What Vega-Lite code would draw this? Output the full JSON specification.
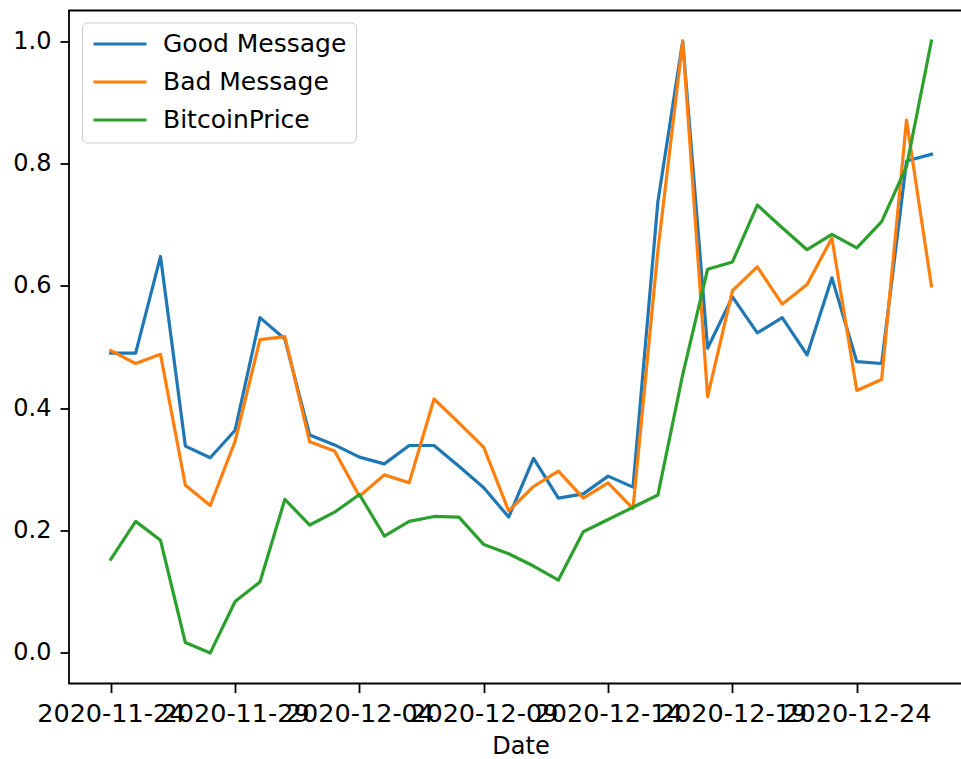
{
  "$schema": "https://vega.github.io/schema/vega-lite/v6.json",
  "width": 892,
  "height": 673,
  "autosize": {"type": "none"},
  "padding": {"left": 69, "top": 10.5, "right": 0, "bottom": 75.5},
  "background": "white",
  "config": {
    "font": "DejaVu Sans",
    "view": {"stroke": "black", "strokeWidth": 1.8, "strokeDash": [892, 673, 1565]},
    "axis": {
      "grid": false,
      "domain": false,
      "labelFont": "DejaVu Sans",
      "labelFontSize": 24,
      "labelColor": "black",
      "tickColor": "black",
      "tickWidth": 1.8,
      "tickSize": 9,
      "titleFont": "DejaVu Sans",
      "titleFontSize": 24,
      "titleFontWeight": "normal",
      "titleColor": "black"
    },
    "legend": {
      "labelFont": "DejaVu Sans",
      "labelFontSize": 25,
      "labelColor": "black",
      "labelLimit": 0,
      "symbolType": "M-1,0H4.3",
      "symbolSize": 400,
      "symbolStrokeWidth": 3.2,
      "labelOffset": 47,
      "rowPadding": 12,
      "padding": 9,
      "fillColor": "rgba(255,255,255,0.8)",
      "strokeColor": "#cccccc",
      "cornerRadius": 5
    }
  },
  "data": {
    "values": [
      {"Date": "2020-11-24", "Good Message": 0.490, "Bad Message": 0.494, "BitcoinPrice": 0.153},
      {"Date": "2020-11-25", "Good Message": 0.490, "Bad Message": 0.473, "BitcoinPrice": 0.215},
      {"Date": "2020-11-26", "Good Message": 0.648, "Bad Message": 0.488, "BitcoinPrice": 0.184},
      {"Date": "2020-11-27", "Good Message": 0.338, "Bad Message": 0.274, "BitcoinPrice": 0.017},
      {"Date": "2020-11-28", "Good Message": 0.319, "Bad Message": 0.241, "BitcoinPrice": 0.000},
      {"Date": "2020-11-29", "Good Message": 0.364, "Bad Message": 0.346, "BitcoinPrice": 0.084},
      {"Date": "2020-11-30", "Good Message": 0.548, "Bad Message": 0.512, "BitcoinPrice": 0.116},
      {"Date": "2020-12-01", "Good Message": 0.513, "Bad Message": 0.517, "BitcoinPrice": 0.251},
      {"Date": "2020-12-02", "Good Message": 0.356, "Bad Message": 0.345, "BitcoinPrice": 0.209},
      {"Date": "2020-12-03", "Good Message": 0.340, "Bad Message": 0.330, "BitcoinPrice": 0.230},
      {"Date": "2020-12-04", "Good Message": 0.320, "Bad Message": 0.256, "BitcoinPrice": 0.259},
      {"Date": "2020-12-05", "Good Message": 0.309, "Bad Message": 0.291, "BitcoinPrice": 0.191},
      {"Date": "2020-12-06", "Good Message": 0.339, "Bad Message": 0.278, "BitcoinPrice": 0.215},
      {"Date": "2020-12-07", "Good Message": 0.339, "Bad Message": 0.415, "BitcoinPrice": 0.223},
      {"Date": "2020-12-08", "Good Message": 0.305, "Bad Message": 0.376, "BitcoinPrice": 0.222},
      {"Date": "2020-12-09", "Good Message": 0.270, "Bad Message": 0.336, "BitcoinPrice": 0.177},
      {"Date": "2020-12-10", "Good Message": 0.222, "Bad Message": 0.232, "BitcoinPrice": 0.162},
      {"Date": "2020-12-11", "Good Message": 0.318, "Bad Message": 0.272, "BitcoinPrice": 0.142},
      {"Date": "2020-12-12", "Good Message": 0.253, "Bad Message": 0.297, "BitcoinPrice": 0.119},
      {"Date": "2020-12-13", "Good Message": 0.260, "Bad Message": 0.253, "BitcoinPrice": 0.198},
      {"Date": "2020-12-14", "Good Message": 0.289, "Bad Message": 0.278, "BitcoinPrice": 0.218},
      {"Date": "2020-12-15", "Good Message": 0.271, "Bad Message": 0.236, "BitcoinPrice": 0.238},
      {"Date": "2020-12-16", "Good Message": 0.737, "Bad Message": 0.657, "BitcoinPrice": 0.258},
      {"Date": "2020-12-17", "Good Message": 1.000, "Bad Message": 1.000, "BitcoinPrice": 0.455},
      {"Date": "2020-12-18", "Good Message": 0.498, "Bad Message": 0.419, "BitcoinPrice": 0.627},
      {"Date": "2020-12-19", "Good Message": 0.582, "Bad Message": 0.592, "BitcoinPrice": 0.639},
      {"Date": "2020-12-20", "Good Message": 0.523, "Bad Message": 0.631, "BitcoinPrice": 0.732},
      {"Date": "2020-12-21", "Good Message": 0.548, "Bad Message": 0.570, "BitcoinPrice": 0.695},
      {"Date": "2020-12-22", "Good Message": 0.487, "Bad Message": 0.602, "BitcoinPrice": 0.659},
      {"Date": "2020-12-23", "Good Message": 0.613, "Bad Message": 0.678, "BitcoinPrice": 0.684},
      {"Date": "2020-12-24", "Good Message": 0.476, "Bad Message": 0.429, "BitcoinPrice": 0.662},
      {"Date": "2020-12-25", "Good Message": 0.473, "Bad Message": 0.447, "BitcoinPrice": 0.705},
      {"Date": "2020-12-26", "Good Message": 0.804, "Bad Message": 0.871, "BitcoinPrice": 0.795},
      {"Date": "2020-12-27", "Good Message": 0.815, "Bad Message": 0.600, "BitcoinPrice": 1.000}
    ]
  },
  "transform": [
    {"fold": ["Good Message", "Bad Message", "BitcoinPrice"], "as": ["series", "value"]}
  ],
  "mark": {"type": "line", "strokeWidth": 3.2, "strokeJoin": "round", "strokeCap": "square", "clip": true},
  "encoding": {
    "x": {
      "field": "Date",
      "type": "temporal",
      "scale": {"type": "utc", "domain": ["2020-11-22T07:41:00Z", "2020-12-28T04:34:00Z"], "nice": false},
      "axis": {
        "title": "Date",
        "values": [
          {"year": 2020, "month": 11, "date": 24, "utc": true},
          {"year": 2020, "month": 11, "date": 29, "utc": true},
          {"year": 2020, "month": 12, "date": 4, "utc": true},
          {"year": 2020, "month": 12, "date": 9, "utc": true},
          {"year": 2020, "month": 12, "date": 14, "utc": true},
          {"year": 2020, "month": 12, "date": 19, "utc": true},
          {"year": 2020, "month": 12, "date": 24, "utc": true}
        ],
        "format": "%Y-%m-%d",
        "labelFontSize": 25.5,
        "labelOverlap": false,
        "labelFlush": false,
        "labelPadding": 9,
        "titleBaseline": "alphabetic",
        "titleX": 451.5,
        "titleY": 70,
        "titleAnchor": "middle"
      }
    },
    "y": {
      "field": "value",
      "type": "quantitative",
      "scale": {"domain": [-0.05, 1.05], "nice": false, "zero": false},
      "axis": {
        "title": null,
        "values": [0, 0.2, 0.4, 0.6, 0.8, 1.0],
        "format": ".1f",
        "labelPadding": 9,
        "labelFlush": false
      }
    },
    "color": {
      "field": "series",
      "type": "nominal",
      "sort": ["Good Message", "Bad Message", "BitcoinPrice"],
      "scale": {"domain": ["Good Message", "Bad Message", "BitcoinPrice"], "range": ["#1f77b4", "#ff7f0e", "#2ca02c"]},
      "legend": {"title": null, "orient": "none", "legendX": 13, "legendY": 12}
    }
  }
}
